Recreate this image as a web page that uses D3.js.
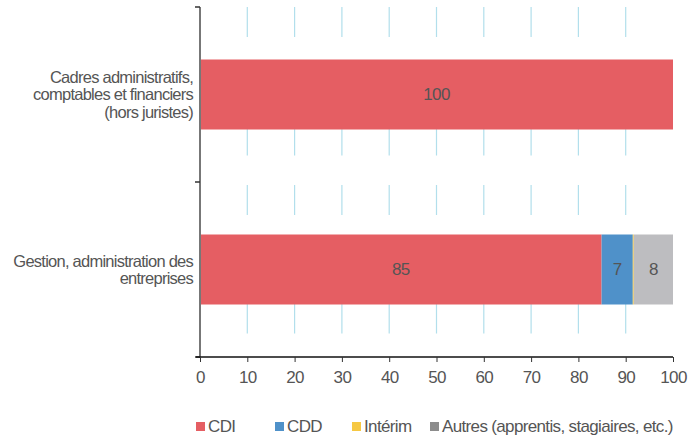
<!DOCTYPE html>
<html>
<head>
<meta charset="utf-8">
<script src="https://cdn.jsdelivr.net/npm/d3@7"></script>
<style>
  body { margin: 0; background: #fff; }
  svg text { font-family: "Liberation Sans", Arial, sans-serif; fill: #555; font-size: 17px; letter-spacing: -0.65px; }
  svg text.cat { font-size: 16.5px; letter-spacing: -0.75px; }
</style>
</head>
<body>
<svg id="chart" width="694" height="437"></svg>
<script>
// categories (each label split into lines)
var categories = [
  ["Cadres administratifs,", "comptables et financiers", "(hors juristes)"],
  ["Gestion, administration des", "entreprises"]
];
var series = ["CDI", "CDD", "Intérim", "Autres (apprentis, stagiaires, etc.)"];
var cdi = [100, 84.9];
var cdd = [0, 6.6];
var interim = [0, 0.2];
var autres = [0, 8.3];
var xTicks = [0, 10, 20, 30, 40, 50, 60, 70, 80, 90, 100];

var barColors = ["#e55e63", "#4f91c9", "#f6c843", "#bdbdc0"];
var legendColors = ["#e55e63", "#4f91c9", "#f6c843", "#8c8c8c"];

var svg = d3.select("#chart");
var mLeft = 200, mTop = 7, width = 473, height = 350;

var rows = categories.map(function (c, i) {
  return { key: i, CDI: cdi[i], CDD: cdd[i], "Intérim": interim[i], "Autres (apprentis, stagiaires, etc.)": autres[i] };
});

var x = d3.scaleLinear().domain([0, 100]).range([mLeft, mLeft + width]);
var y = d3.scaleBand().domain(d3.range(categories.length))
  .range([mTop, mTop + height]).paddingInner(0.6).paddingOuter(0.3);

// dashed-looking gridlines
svg.append("g").selectAll("line")
  .data(xTicks.filter(function (t) { return t > 0 && t < 100; }))
  .enter().append("line")
  .attr("x1", function (d) { return x(d); })
  .attr("x2", function (d) { return x(d); })
  .attr("y1", mTop).attr("y2", mTop + height)
  .attr("stroke", "#b2dfec").attr("stroke-width", 1.2)
  .attr("stroke-dasharray", "30,29.3");

var stack = d3.stack().keys(series)(rows);

svg.append("g").selectAll("g")
  .data(stack).enter().append("g")
  .attr("fill", function (d, i) { return barColors[i]; })
  .selectAll("rect")
  .data(function (d) { return d; })
  .enter().append("rect")
  .attr("x", function (d) { return x(d[0]); })
  .attr("width", function (d) { return x(d[1]) - x(d[0]); })
  .attr("y", function (d, i) { return y(i); })
  .attr("height", y.bandwidth());

// value labels
var labels = [];
stack.forEach(function (s) {
  s.forEach(function (d, i) {
    var v = d[1] - d[0];
    if (v >= 1) labels.push({ x: (x(d[0]) + x(d[1])) / 2, y: y(i) + y.bandwidth() / 2, t: Math.round(v) });
  });
});
svg.append("g").selectAll("text")
  .data(labels).enter().append("text")
  .attr("x", function (d) { return d.x; })
  .attr("y", function (d) { return d.y; })
  .attr("dy", "0.35em")
  .attr("text-anchor", "middle")
  .text(function (d) { return d.t; });

// y axis
var yAxis = svg.append("g");
yAxis.append("line")
  .attr("x1", mLeft).attr("x2", mLeft)
  .attr("y1", mTop).attr("y2", mTop + height + 1)
  .attr("stroke", "#777").attr("stroke-width", 2);
yAxis.selectAll("line.tick")
  .data([mTop, mTop + y.step(), mTop + height])
  .enter().append("line").attr("class", "tick")
  .attr("x1", mLeft - 5).attr("x2", mLeft)
  .attr("y1", function (d) { return d; }).attr("y2", function (d) { return d; })
  .attr("stroke", "#333").attr("stroke-width", 1.5);

// category labels
categories.forEach(function (lines, i) {
  var cy = y(i) + y.bandwidth() / 2;
  var t = svg.append("text")
    .attr("class", "cat")
    .attr("text-anchor", "end");
  lines.forEach(function (l, j) {
    t.append("tspan")
      .attr("x", 193)
      .attr("y", cy + (j - (lines.length - 1) / 2) * 17.5)
      .attr("dy", "0.35em")
      .text(l);
  });
});

// x axis
var xAxis = svg.append("g")
  .attr("transform", "translate(0," + (mTop + height) + ")")
  .call(d3.axisBottom(x).tickValues(xTicks).tickSize(5).tickPadding(9));
xAxis.select(".domain").attr("stroke", "#111").attr("stroke-width", 1.5)
  .attr("d", "M" + (mLeft - 4) + ",0H" + (mLeft + width));
xAxis.selectAll(".tick line").attr("stroke", "#333");
xAxis.selectAll(".tick text")
  .style("font-size", "17px")
  .style("font-family", "'Liberation Sans', Arial, sans-serif")
  .attr("fill", "#555");

// legend
var legendX = [196, 275, 352, 430];
var lg = svg.append("g").selectAll("g")
  .data(series).enter().append("g")
  .attr("transform", function (d, i) { return "translate(" + legendX[i] + ",422)"; });
lg.append("rect").attr("width", 9).attr("height", 9)
  .attr("fill", function (d, i) { return legendColors[i]; });
lg.append("text").attr("x", 12).attr("y", 9.5)
  .text(function (d) { return d; });
</script>
</body>
</html>
